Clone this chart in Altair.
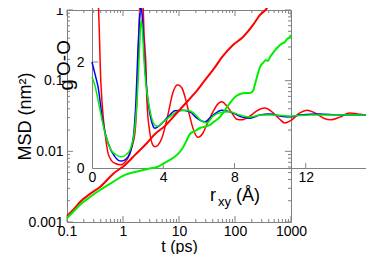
import altair as alt
import pandas as pd

# ---------------- main plot: MSD vs t ----------------
t_red = [0.1, 0.139, 0.171, 0.258, 0.388, 0.663, 1.09, 1.64, 2.68, 3.73, 5.62, 8.48,
         12.8, 19.3, 29.1, 40.5, 61.1, 92.1, 139, 210, 279, 373, 422]
msd_red = [0.00122, 0.00158, 0.00192, 0.00250, 0.00313, 0.00479, 0.00643, 0.0089, 0.0131,
           0.0176, 0.0229, 0.0327, 0.0468, 0.067, 0.102, 0.142, 0.224, 0.320, 0.415,
           0.614, 0.850, 1.07, 1.30]

t_green = [0.1, 0.139, 0.171, 0.258, 0.388, 0.663, 1.09, 1.64, 2.79, 4.05, 5.18, 6.90,
           9.60, 11.3, 13.3, 15.7, 19.3, 23.7, 35.8, 44.0, 54.0, 66.3, 81.5, 100, 123,
           151, 185, 210, 228, 247, 279, 316, 358, 388, 422, 477, 562, 636, 720, 782,
           849, 921, 1000]
msd_green = [0.00114, 0.00148, 0.00175, 0.00226, 0.00284, 0.00369, 0.00464, 0.00511,
             0.00564, 0.00601, 0.00664, 0.00756, 0.00919, 0.0108, 0.0136, 0.0176, 0.0194,
             0.0214, 0.0236, 0.0269, 0.0307, 0.0385, 0.0484, 0.0588, 0.0648, 0.0670,
             0.0670, 0.0715, 0.0898, 0.113, 0.156, 0.178, 0.196, 0.190, 0.216, 0.247,
             0.290, 0.320, 0.341, 0.353, 0.389, 0.402, 0.443]

t_major = [0.1, 1, 10, 100, 1000]
t_minor = [k * 10.0 ** d for d in range(-1, 3) for k in range(2, 10)]
msd_major = [0.001, 0.01, 0.1, 1]
msd_minor = [k * 10.0 ** d for d in range(-3, 0) for k in range(2, 10)]

# ---------------- inset: g_O-O vs r_xy ----------------
r_red = [0.22, 0.34, 0.50, 0.62, 0.73, 0.90, 1.12, 1.35, 1.63, 1.85, 2.02, 2.24, 2.41,
         2.52, 2.58, 2.69, 2.75, 2.80, 2.86, 2.92, 3.03, 3.08, 3.25, 3.42, 3.53, 3.70,
         3.93, 4.26, 4.54, 4.82, 5.05, 5.27, 5.50, 5.72, 5.95, 6.23, 6.51, 6.79, 7.07,
         7.29, 7.57, 7.85, 8.13, 8.41, 8.86, 9.31, 9.70, 10.10, 10.54, 10.82, 11.22,
         11.67, 12.06, 12.51, 13.01, 13.40, 13.91, 14.47, 14.92, 15.48, 16.0]
g_red = [3.36, 3.17, 1.60, 1.00, 0.66, 0.28, 0.13, 0.08, 0.06, 0.11, 0.19, 0.40, 0.66,
         1.28, 1.91, 3.17, 3.55, 3.55, 3.17, 2.55, 1.91, 1.28, 0.66, 0.43, 0.40, 0.43,
         0.57, 1.00, 1.42, 1.57, 1.51, 1.28, 0.96, 0.70, 0.58, 0.66, 0.87, 1.06, 1.21,
         1.25, 1.17, 1.04, 0.92, 0.91, 0.98, 1.09, 1.13, 1.06, 0.92, 0.85, 0.91, 1.04,
         1.09, 1.04, 0.94, 0.91, 0.96, 1.04, 1.02, 1.00, 1.00]

r_blue = [0.0, 0.17, 0.34, 0.62, 0.90, 1.29, 1.63, 2.02, 2.30, 2.47, 2.58, 2.69, 2.75,
          2.80, 2.97, 3.14, 3.37, 3.53, 3.81, 4.26, 4.66, 5.10, 5.50, 5.89, 6.34, 6.73,
          7.29, 7.91, 8.41, 8.86, 9.42, 9.98, 10.54, 11.10, 11.67, 12.79, 13.91, 16.0]
g_blue = [2.00, 1.77, 1.53, 0.85, 0.47, 0.21, 0.13, 0.21, 0.53, 1.28, 2.23, 2.89, 3.04,
          2.94, 1.91, 1.28, 0.85, 0.75, 0.81, 0.96, 1.08, 1.09, 1.06, 0.94, 0.87, 0.98,
          1.09, 1.04, 0.96, 0.94, 1.00, 1.02, 0.98, 0.96, 1.00, 1.02, 1.00, 1.00]

r_green = [0.0, 0.17, 0.34, 0.73, 1.07, 1.35, 1.63, 1.91, 2.13, 2.41, 2.58, 2.69, 2.75,
           2.80, 2.97, 3.25, 3.53, 3.70, 3.93, 4.49, 4.94, 5.33, 5.78, 6.06, 6.45, 6.79,
           7.18, 7.74, 8.30, 8.86, 9.53, 10.26, 11.10, 12.23, 16.0]
g_green = [1.72, 1.55, 1.28, 0.66, 0.34, 0.25, 0.21, 0.25, 0.34, 0.77, 1.60, 2.42, 2.79,
           2.70, 1.79, 1.09, 0.81, 0.79, 0.85, 1.00, 1.08, 1.09, 1.02, 0.91, 0.85, 0.98,
           1.04, 1.06, 1.00, 0.96, 1.00, 1.00, 0.98, 1.00, 1.00]

r_labels = [0, 4, 8, 12, 16]
r_tick_vals = [4, 8, 12, 16]
g_labels = [0, 2]
g_tick_vals = [2]

# ---------------- styling ----------------
GRAY = "#808080"
FONT = "Liberation Sans"
RED, GREEN, BLUE = "#ff0000", "#00ee00", "#0000ff"
W, H = 224, 212
INSET_X0, INSET_X1 = 25, 310
INSET_Y0 = 158
G_PX = 53.0
G_TOP = 3.4

xs = alt.Scale(type="log", domain=[0.1, 1000], nice=False)
ys = alt.Scale(type="log", domain=[0.001, 1], nice=False)
xaxis = alt.Axis(orient="bottom", values=t_major, format="~g", title="t (ps)",
                 ticks=False, domain=False, grid=False, labelFontSize=14,
                 labelPadding=2, labelFlush=False, labelOverlap=False,
                 labelFont=FONT, titleFont=FONT, titleFontSize=16,
                 titleFontWeight="normal", titleX=W / 2, titleY=24,
                 titleAlign="center", titleBaseline="middle", labelColor="black",
                 titleColor="black")
yaxis = alt.Axis(orient="left", values=msd_major, format="~g", title="MSD (nm²)",
                 ticks=False, domain=False, grid=False, labelFontSize=14,
                 labelPadding=4, labelFlush=False, labelOverlap=False,
                 labelFont=FONT, titleFont=FONT, titleFontSize=18,
                 titleFontWeight="normal", titleAngle=270, titleX=-42, titleY=H / 2,
                 titleAlign="center", titleBaseline="middle", labelColor="black",
                 titleColor="black")

rs = alt.Scale(domain=[0, 16], range=[INSET_X0, INSET_X1], nice=False, zero=False)
gs = alt.Scale(domain=[0, G_TOP], range=[INSET_Y0, INSET_Y0 - G_TOP * G_PX], nice=False, zero=False)
raxis = alt.Axis(orient="bottom", offset=-(H - INSET_Y0), values=r_labels, format="d",
                 title=None, ticks=False, grid=False, domainColor=GRAY, domainWidth=1,
                 labelFontSize=14, labelPadding=2, labelFlush=False, labelOverlap=False,
                 labelFont=FONT, labelColor="black")
gaxis = alt.Axis(orient="left", offset=-INSET_X0, values=g_labels, format="d",
                 title=None, ticks=False, grid=False, domainColor=GRAY, domainWidth=1,
                 labelFontSize=14, labelPadding=8, labelFlush=False, labelOverlap=False,
                 labelFont=FONT, labelColor="black")

# ---------------- main layers ----------------
df_red = pd.DataFrame({"t": t_red, "msd": msd_red})
df_green = pd.DataFrame({"t": t_green, "msd": msd_green})

def mline(df, color):
    return alt.Chart(df).mark_line(color=color, strokeWidth=2, interpolate="monotone").encode(
        x=alt.X("t:Q", scale=xs, axis=xaxis),
        y=alt.Y("msd:Q", scale=ys, axis=yaxis),
    )

def xticks(vals, y0, y1):
    return alt.Chart(pd.DataFrame({"t": vals})).mark_rule(color=GRAY, strokeWidth=1).encode(
        x=alt.X("t:Q", scale=xs, axis=xaxis), y=alt.value(y0), y2=alt.value(y1))

def yticks(vals, x0, x1):
    return alt.Chart(pd.DataFrame({"msd": vals})).mark_rule(color=GRAY, strokeWidth=1).encode(
        y=alt.Y("msd:Q", scale=ys, axis=yaxis), x=alt.value(x0), x2=alt.value(x1))

main = alt.layer(
    xticks(t_major, H, H - 6), xticks(t_minor, H, H - 3),
    xticks(t_major, 0, 6), xticks(t_minor, 0, 3),
    yticks(msd_major, 0, 6), yticks(msd_minor, 0, 3),
    yticks(msd_major, W, W - 6), yticks(msd_minor, W, W - 3),
    mline(df_red, RED), mline(df_green, GREEN),
)

# ---------------- inset layers ----------------
def gline(r, g, color):
    return alt.Chart(pd.DataFrame({"r": r, "g": g})).mark_line(
        color=color, strokeWidth=1.5, interpolate="monotone").encode(
        x=alt.X("r:Q", scale=rs, axis=raxis),
        y=alt.Y("g:Q", scale=gs, axis=gaxis),
    )

r_ticks = alt.Chart(pd.DataFrame({"r": r_tick_vals})).mark_rule(color=GRAY).encode(
    x=alt.X("r:Q", scale=rs, axis=raxis), y=alt.value(INSET_Y0), y2=alt.value(INSET_Y0 - 5))
g_ticks_l = alt.Chart(pd.DataFrame({"g": g_tick_vals})).mark_rule(color=GRAY).encode(
    y=alt.Y("g:Q", scale=gs, axis=gaxis), x=alt.value(INSET_X0), x2=alt.value(INSET_X0 + 6))
g_ticks_r = alt.Chart(pd.DataFrame({"g": g_tick_vals})).mark_rule(color=GRAY).encode(
    y=alt.Y("g:Q", scale=gs, axis=gaxis), x=alt.value(INSET_X1), x2=alt.value(INSET_X1 - 6))

inset = alt.layer(
    r_ticks, g_ticks_l, g_ticks_r,
    gline(r_red, g_red, RED), gline(r_blue, g_blue, BLUE), gline(r_green, g_green, GREEN),
)

# ---------------- inset titles ----------------
one = pd.DataFrame({"a": [0]})

def label(text, x, y, size, angle=0, align="left", baseline="alphabetic"):
    kw = dict(text=text, font=FONT, fontSize=size, color="black", align=align, baseline=baseline)
    if angle:
        kw["angle"] = angle
    return alt.Chart(one).mark_text(**kw).encode(x=alt.value(x), y=alt.value(y))

titles = alt.layer(
    label("r", 143, 191, 18),
    label("xy", 151, 196, 13),
    label("(Å)", 169, 191, 18),
    label("g", 0, 75, 20, angle=270, align="center", baseline="middle"),
    label("O-O", -3, 48, 19, angle=270, align="center", baseline="middle"),
)

chart = alt.layer(inset, main, titles).resolve_scale(
    x="independent", y="independent"
).properties(
    width=W, height=H,
    padding={"left": 59, "top": 2, "right": 75, "bottom": 32},
    autosize=alt.AutoSizeParams(type="none"),
).configure_view(stroke=GRAY, strokeWidth=1)

chart.save("out.html", embed_options={"renderer": "svg", "actions": False})
